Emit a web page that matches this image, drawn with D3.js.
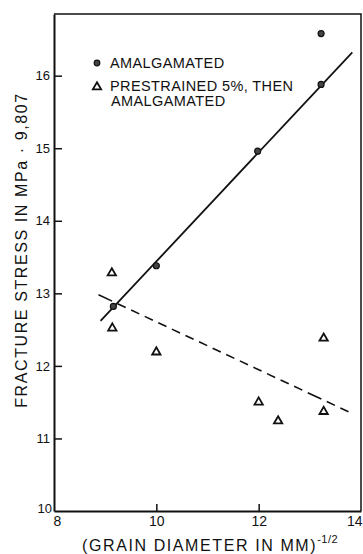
<!DOCTYPE html>
<html>
<head>
<meta charset="utf-8">
<script src="https://cdn.jsdelivr.net/npm/d3@7"></script>
<style>
  body { margin: 0; background: #fff; }
  svg { display: block; font-family: "Liberation Sans", Arial, sans-serif; }
</style>
</head>
<body>
<div class="main"></div>
<script>
// Données
const amalgX = [9.16, 10.0, 11.98, 13.22, 13.22];
const amalgY = [12.82, 13.38, 14.96, 15.88, 16.58];
const prestrX = [9.13, 9.14, 10.0, 12.0, 12.38, 13.27, 13.27];
const prestrY = [13.28, 12.52, 12.19, 11.5, 11.24, 11.37, 12.38];
const fitSolidX = [8.91, 13.83];
const fitSolidY = [12.62, 16.32];
const fitDashX = [8.87, 13.81];
const fitDashY = [12.98, 11.35];
const xTicks = [8, 10, 12, 14];
const yTicks = [10, 11, 12, 13, 14, 15, 16];
const legendLabels = ['AMALGAMATED', 'PRESTRAINED 5%, THEN', 'AMALGAMATED'];
const yTitle = 'FRACTURE STRESS IN MPa · 9,807';
const xTitle = '(GRAIN DIAMETER IN MM)';
const xTitleSup = '-1/2';

const width = 363;
const height = 554;
const margin = { top: 14, right: 2, bottom: 43, left: 54 };

const svg = d3.select('.main')
  .append('svg')
  .attr('width', width)
  .attr('height', height);

const x = d3.scaleLinear()
  .domain([8, 14])
  .range([margin.left, width - margin.right]);

const y = d3.scaleLinear()
  .domain([10, 16.85])
  .range([height - margin.bottom, margin.top]);

// Cadre (haut et droite)
svg.append('path')
  .attr('d', `M${x(8)},${y(16.85)}H${x(14)}V${y(10)}`)
  .attr('fill', 'none')
  .attr('stroke', '#111')
  .attr('stroke-width', 1.5);

// Axe vertical
svg.append('g')
  .attr('transform', `translate(${x(8)},0)`)
  .call(d3.axisLeft(y).tickValues(yTicks.filter(d => d > 10)).tickFormat(d3.format('d'))
    .tickSizeInner(-8).tickSizeOuter(0).tickPadding(4))
  .call(g => g.select('.domain').attr('stroke-width', 2).attr('stroke', '#111'))
  .call(g => g.selectAll('.tick line').attr('stroke-width', 1.5).attr('stroke', '#111'))
  .call(g => g.selectAll('.tick text').attr('font-size', 13).attr('fill', '#111').attr('font-family', 'Liberation Sans'));

// Libellé 10 de l'axe vertical
svg.append('text')
  .attr('x', x(8) - 2)
  .attr('y', y(10) + 2)
  .attr('text-anchor', 'end')
  .attr('font-size', 13)
  .attr('fill', '#111')
  .text(yTicks[0]);

// Axe horizontal
svg.append('g')
  .attr('transform', `translate(0,${y(10)})`)
  .call(d3.axisBottom(x).tickValues(xTicks).tickFormat(d3.format('d'))
    .tickSizeInner(-7).tickSizeOuter(0).tickPadding(5))
  .call(g => g.select('.domain').attr('stroke-width', 2).attr('stroke', '#111'))
  .call(g => g.selectAll('.tick line').attr('stroke-width', 1.5).attr('stroke', '#111'))
  .call(g => g.selectAll('.tick text').attr('font-size', 14).attr('fill', '#111').attr('font-family', 'Liberation Sans'))
  .call(g => g.selectAll('.tick').filter(d => d === 8).select('text').attr('dx', 3))
  .call(g => g.selectAll('.tick').filter(d => d === 14).select('text').attr('text-anchor', 'end').attr('dx', 1))
  .call(g => g.selectAll('.tick').filter(d => d === 8 || d === 14).select('line').remove());

// Droites d'ajustement
const line = d3.line().x(d => x(d[0])).y(d => y(d[1]));

svg.append('path')
  .attr('d', line(d3.zip(fitSolidX, fitSolidY)))
  .attr('stroke', '#111')
  .attr('stroke-width', 1.8)
  .attr('fill', 'none');

svg.append('path')
  .attr('d', line(d3.zip(fitDashX, fitDashY)))
  .attr('stroke', '#111')
  .attr('stroke-width', 1.6)
  .attr('stroke-dasharray', '15,6,9,6,9,6,9,6,9,6,9,6,9,6,9,6,9,6,9,6,9,6,9,6,9,6,9,6,9,6')
  .attr('fill', 'none');

// Points
const triangle = d3.symbol().type(d3.symbolTriangle).size(30);

svg.append('g')
  .selectAll('circle')
  .data(d3.zip(amalgX, amalgY))
  .enter()
  .append('circle')
  .attr('cx', d => x(d[0]))
  .attr('cy', d => y(d[1]))
  .attr('r', 3)
  .attr('fill', '#444')
  .attr('stroke', '#111')
  .attr('stroke-width', 1.2);

svg.append('g')
  .selectAll('path')
  .data(d3.zip(prestrX, prestrY))
  .enter()
  .append('path')
  .attr('d', triangle)
  .attr('transform', d => `translate(${x(d[0])},${y(d[1])})`)
  .attr('fill', 'none')
  .attr('stroke', '#111')
  .attr('stroke-width', 1.8);

// Légende
const legend = svg.append('g')
  .attr('font-size', 14.5)
  .attr('letter-spacing', 0.4)
  .attr('fill', '#111');

legend.append('circle')
  .attr('cx', 97).attr('cy', 63).attr('r', 2.8)
  .attr('fill', '#444').attr('stroke', '#111').attr('stroke-width', 1.2);
legend.append('path')
  .attr('d', triangle)
  .attr('transform', 'translate(97,87)')
  .attr('fill', 'none').attr('stroke', '#111').attr('stroke-width', 1.8);

legend.selectAll('text')
  .data(legendLabels)
  .enter()
  .append('text')
  .attr('x', (d, i) => i === 2 ? 111 : 110)
  .attr('y', (d, i) => [68, 91, 106][i])
  .text(d => d);

// Titres des axes
svg.append('text')
  .attr('transform', 'translate(27,250) rotate(-90)')
  .attr('text-anchor', 'middle')
  .attr('font-size', 16)
  .attr('letter-spacing', 1.6)
  .attr('fill', '#111')
  .text(yTitle);

const xt = svg.append('text')
  .attr('x', 82)
  .attr('y', 551)
  .attr('font-size', 16)
  .attr('letter-spacing', 1.6)
  .attr('fill', '#111')
  .text(xTitle);
xt.append('tspan')
  .attr('dy', -8)
  .attr('font-size', 11)
  .attr('letter-spacing', 0.5)
  .text(xTitleSup);
</script>
</body>
</html>
